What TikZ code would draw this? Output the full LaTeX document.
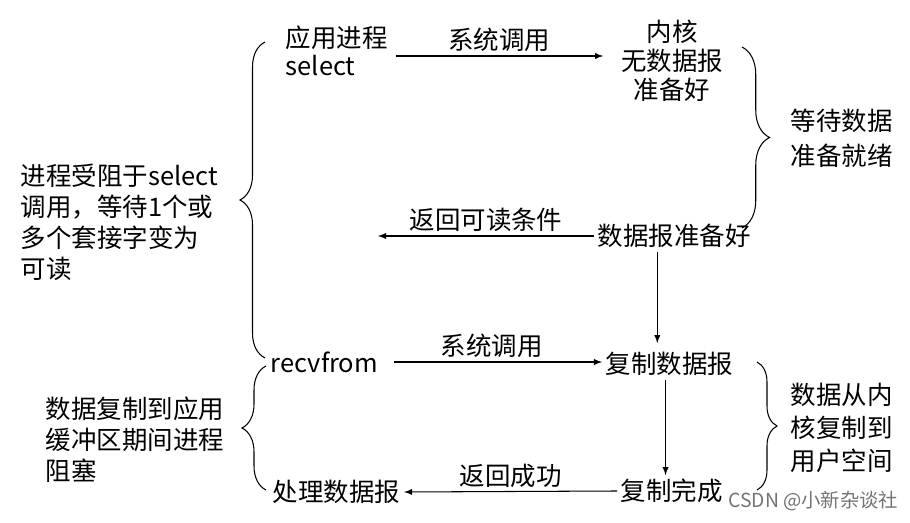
\documentclass[tikz,border=0pt]{standalone}
\usepackage{fontspec}
\newfontfamily\cjk{Noto Sans CJK SC}
\usetikzlibrary{arrows,decorations.pathreplacing,positioning}

\begin{document}
\begin{tikzpicture}[x=0.02cm, y=-0.02cm,
                    lbl/.style={font=\cjk\fontsize{14.5}{17.6}\selectfont, inner sep=2pt},
                    arr/.style={-latex, line width=0.6pt},
                    brc/.style={decorate, decoration={brace, amplitude=#1}, line width=0.6pt}]
                    \useasboundingbox (0,0) rectangle (910,523);
                    \node [lbl, right, align=left, font=\cjk\fontsize{14.5}{16}\selectfont] (app) at (282,51) {应用进程\\select};
                    \node [lbl, align=center, font=\cjk\fontsize{14.5}{16.5}\selectfont] (kern) at (672,61) {内核\\无数据报\\准备好};
                    \node [lbl, right, align=left, font=\cjk\fontsize{14.5}{19.8}\selectfont] (wait) at (787,138) {等待数据\\准备就绪};
                    \node [lbl, right, align=left] (blk) at (17,222) {进程受阻于select\\调用，等待1个或\\多个套接字变为\\可读};
                    \node [lbl, right] (rdy) at (594,236) {数据报准备好};
                    \node [lbl, right] (recv) at (267,362) {recvfrom};
                    \node [lbl, right] (copy) at (602,364) {复制数据报};
                    \node [lbl, right] (done) at (617,491) {复制完成};
                    \node [lbl, right] (proc) at (269,492) {处理数据报};
                    \node [lbl, right, align=left] (cpblk) at (42,440) {数据复制到应用\\缓冲区期间进程\\阻塞};
                    \node [lbl, right, align=left, font=\cjk\fontsize{14.5}{18.7}\selectfont] (kcp) at (787,428) {数据从内\\核复制到\\用户空间};
                    \node [right, inner sep=0pt, text=black!55, font=\cjk\fontsize{11}{11}\selectfont] (wm) at (728,501) {CSDN @小新杂谈社};
                    \coordinate (ret) at (378,233);
                    \draw [arr] ([shift={(4,5)}]app.east) -- ([shift={(-14,5)}]app.east -| kern.west)
                        node [lbl, midway, above] {系统调用};
                    \draw [arr] (rdy.west) -- (ret |- rdy.west)
                        node [lbl, midway, above] {返回可读条件};
                    \draw [arr, shorten >=3pt] ([xshift=-0.34cm]rdy.south) -- ([xshift=-0.34cm]rdy.south |- copy.north);
                    \draw [arr, shorten <=7pt] (recv.east) -- (recv.east -| copy.west)
                        node [lbl, midway, above] {系统调用};
                    \draw [arr] ([xshift=-0.08cm]copy.south) -- ([xshift=-0.08cm]copy.south |- done.north);
                    \draw [arr] (done.west) -- (proc.east)
                        node [lbl, midway, above] {返回成功};
                    \draw [brc=0.5cm] (265,358) -- (265,42);
                    \draw [brc=0.48cm] (266,490) -- (266,366);
                    \draw [brc=0.55cm] (742,47) -- (742,228);
                    \draw [brc=0.4cm] (757,362) -- (757,490);
                \end{tikzpicture}
\end{document}
